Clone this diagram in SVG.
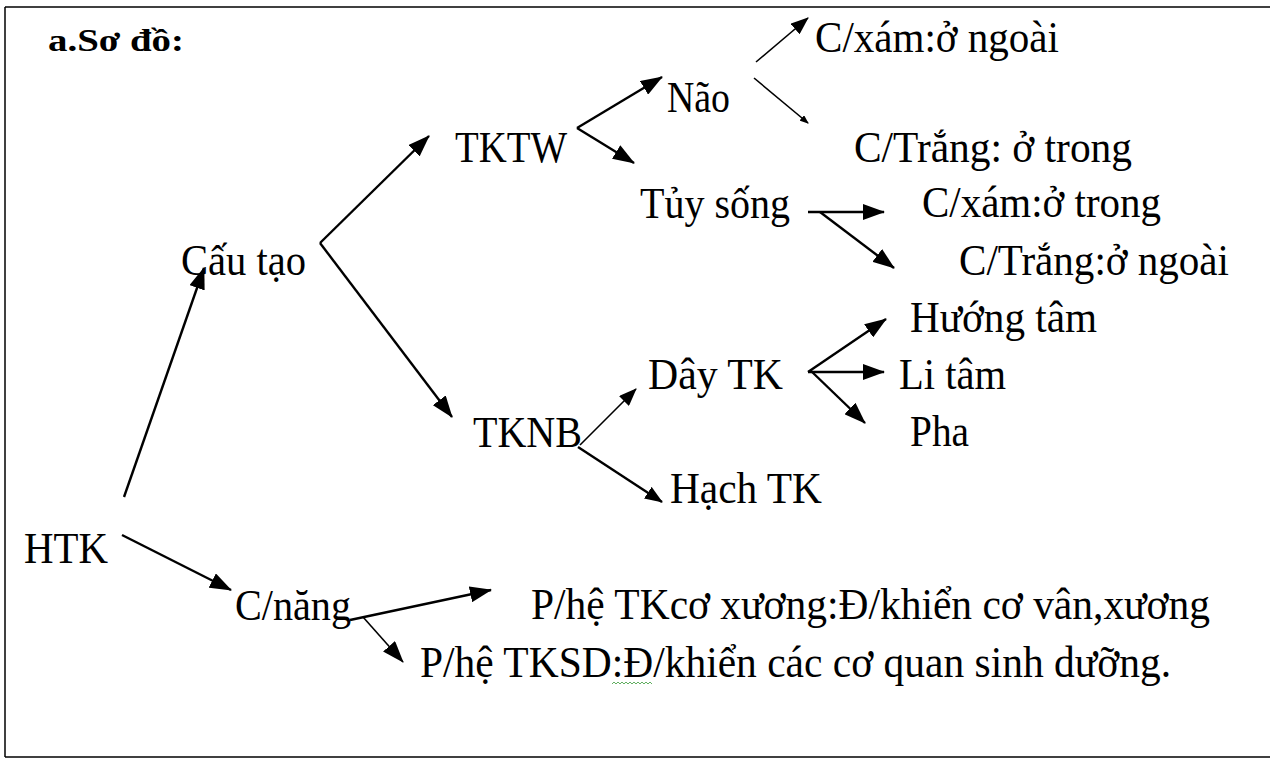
<svg xmlns="http://www.w3.org/2000/svg" width="1270" height="758" viewBox="0 0 1270 758">
<style>
text{font-family:'Times New Roman','Liberation Serif',Tinos,'DejaVu Serif',serif;font-size:44px;fill:#000}
.t{font-weight:bold;font-size:31px}
.c line{stroke:#000;stroke-width:2.4;fill:none}
.c line.th{stroke-width:1.6}
</style>
<defs>
<marker id="aL" markerUnits="userSpaceOnUse" viewBox="0 0 22 16" markerWidth="22" markerHeight="16" refX="21" refY="8" orient="auto"><path d="M0,0 L22,8 L0,16 z" fill="#000"/></marker>
<marker id="aM" markerUnits="userSpaceOnUse" viewBox="0 0 18 14" markerWidth="18" markerHeight="14" refX="17" refY="7" orient="auto"><path d="M0,0 L18,7 L0,14 z" fill="#000"/></marker>
<marker id="aS" markerUnits="userSpaceOnUse" viewBox="0 0 9 7" markerWidth="9" markerHeight="7" refX="8" refY="3.5" orient="auto"><path d="M0,0 L9,3.5 L0,7 z" fill="#000"/></marker>
</defs>
<rect width="1270" height="758" fill="#fff"/>
<g id="border" stroke="#000" stroke-width="1.5" fill="none">
<line x1="5" y1="7" x2="1270" y2="7"/>
<line x1="5" y1="7" x2="5" y2="757"/>
<line x1="5" y1="757" x2="1270" y2="757"/>
</g>
<g id="title"><text class="t" x="48" y="51" textLength="136" lengthAdjust="spacingAndGlyphs">a.Sơ đồ:</text></g>
<g id="HTK"><text x="24" y="563" textLength="84" lengthAdjust="spacingAndGlyphs">HTK</text></g>
<g id="CauTao"><text x="181" y="275" textLength="125" lengthAdjust="spacingAndGlyphs">Cấu tạo</text></g>
<g id="CNang"><text x="235" y="620" textLength="116" lengthAdjust="spacingAndGlyphs">C/năng</text></g>
<g id="TKTW"><text x="455" y="162" textLength="112" lengthAdjust="spacingAndGlyphs">TKTW</text></g>
<g id="TKNB"><text x="473" y="447" textLength="109" lengthAdjust="spacingAndGlyphs">TKNB</text></g>
<g id="Nao"><text x="667" y="112" textLength="63" lengthAdjust="spacingAndGlyphs">Não</text></g>
<g id="TuySong"><text x="640" y="218" textLength="150" lengthAdjust="spacingAndGlyphs">Tủy sống</text></g>
<g id="DayTK"><text x="648" y="389" textLength="135" lengthAdjust="spacingAndGlyphs">Dây TK</text></g>
<g id="HachTK"><text x="670" y="503" textLength="152" lengthAdjust="spacingAndGlyphs">Hạch TK</text></g>
<g id="CXamNgoai"><text x="815" y="52" textLength="244" lengthAdjust="spacingAndGlyphs">C/xám:ở ngoài</text></g>
<g id="CTrangTrong"><text x="854" y="162" textLength="278" lengthAdjust="spacingAndGlyphs">C/Trắng: ở trong</text></g>
<g id="CXamTrong"><text x="922" y="217" textLength="239" lengthAdjust="spacingAndGlyphs">C/xám:ở trong</text></g>
<g id="CTrangNgoai"><text x="959" y="275" textLength="270" lengthAdjust="spacingAndGlyphs">C/Trắng:ở ngoài</text></g>
<g id="HuongTam"><text x="910" y="332" textLength="187" lengthAdjust="spacingAndGlyphs">Hướng tâm</text></g>
<g id="LiTam"><text x="899" y="389" textLength="107" lengthAdjust="spacingAndGlyphs">Li tâm</text></g>
<g id="Pha"><text x="910" y="446" textLength="59" lengthAdjust="spacingAndGlyphs">Pha</text></g>
<g id="PheCoXuong"><text x="531" y="619" textLength="679" lengthAdjust="spacingAndGlyphs">P/hệ TKcơ xương:Đ/khiển  cơ vân,xương</text></g>
<g id="PheTKSD"><text x="420" y="677" textLength="751" lengthAdjust="spacingAndGlyphs">P/hệ TKSD:Đ/khiển  các cơ quan sinh dưỡng.</text></g>
<g class="c" id="connectors">
<line x1="124" y1="497" x2="204" y2="268" marker-end="url(#aL)"/>
<line x1="320" y1="243" x2="429" y2="136" marker-end="url(#aL)"/>
<line x1="320" y1="243" x2="452" y2="417" marker-end="url(#aL)"/>
<line x1="577" y1="128" x2="662" y2="77" marker-end="url(#aL)"/>
<line x1="577" y1="128" x2="634" y2="163" marker-end="url(#aL)"/>
<line class="th" x1="756" y1="62" x2="808" y2="18" marker-end="url(#aM)"/>
<line class="th" x1="754" y1="78" x2="808" y2="123" marker-end="url(#aS)"/>
<line x1="808" y1="212" x2="884" y2="212" marker-end="url(#aL)"/>
<line x1="820" y1="212" x2="894" y2="268" marker-end="url(#aL)"/>
<line class="th" x1="580" y1="445" x2="636" y2="389" marker-end="url(#aM)"/>
<line x1="578" y1="447" x2="662" y2="502" marker-end="url(#aM)"/>
<line x1="808" y1="372" x2="886" y2="319" marker-end="url(#aL)"/>
<line x1="808" y1="372" x2="884" y2="372" marker-end="url(#aL)"/>
<line x1="810" y1="370" x2="865" y2="423" marker-end="url(#aL)"/>
<line x1="122" y1="535" x2="231" y2="590" marker-end="url(#aL)"/>
<line x1="350" y1="620" x2="491" y2="590" marker-end="url(#aL)"/>
<line class="th" x1="363" y1="617" x2="403" y2="662" marker-end="url(#aL)"/>
</g>
<path d="M612,684 l2,-2 l2,2 l2,-2 l2,2 l2,-2 l2,2 l2,-2 l2,2 l2,-2 l2,2 l2,-2 l2,2 l2,-2 l2,2 l2,-2 l2,2 l2,-2 l2,2 l2,-2 l2,2" fill="none" stroke="#3a9a3a" stroke-width="0.8"/>
</svg>
